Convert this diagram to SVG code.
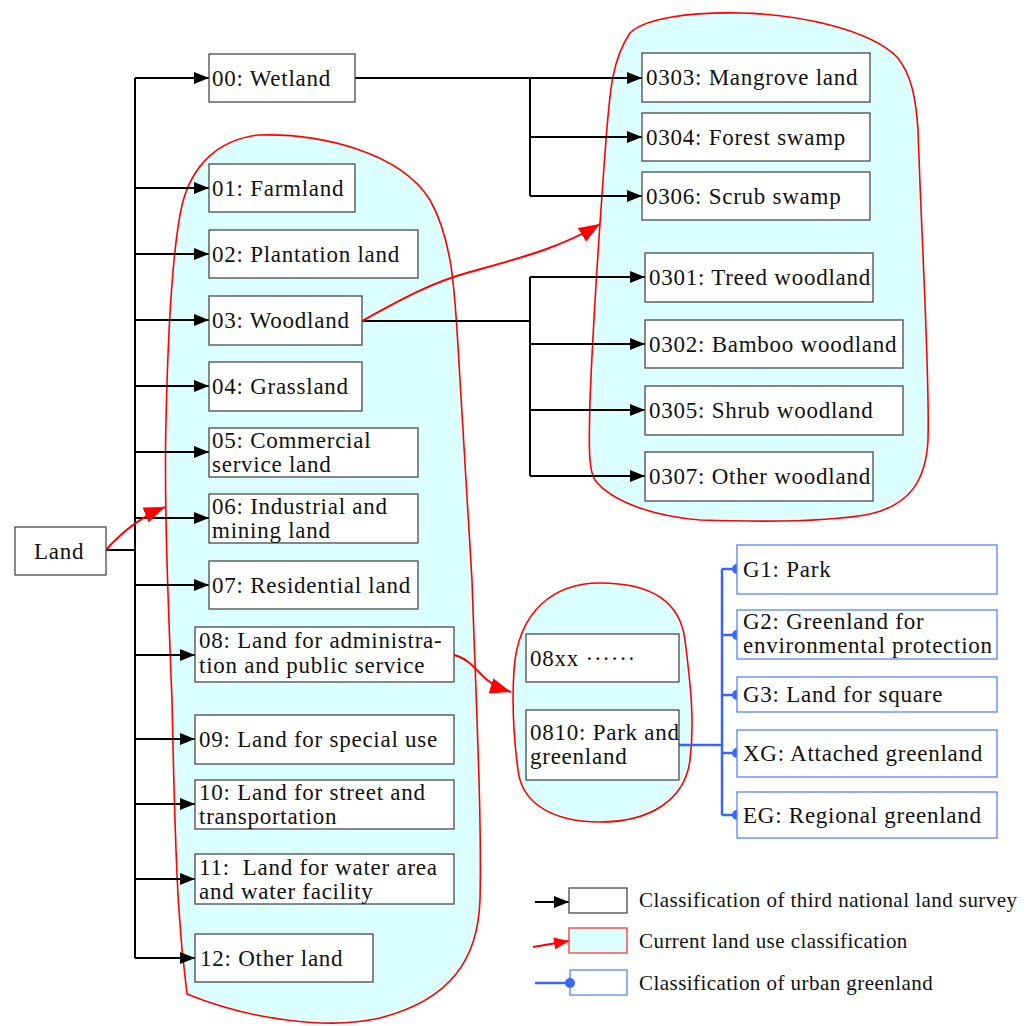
<svg xmlns="http://www.w3.org/2000/svg" width="1035" height="1026" viewBox="0 0 1035 1026">
  <style>
    .blob { fill: #dcffff; stroke: #ff0000; stroke-width: 1.6; }
    .box { fill: #ffffff; stroke: #4a4a4a; stroke-width: 1.3; }
    .gbox { fill: #ffffff; stroke: #5a82ff; stroke-width: 1.3; }
    .t { font-family: "Liberation Serif", "Times New Roman", serif; font-size: 23px; letter-spacing: 0.75px; fill: #111; }
    .lg { font-family: "Liberation Serif", "Times New Roman", serif; font-size: 21px; letter-spacing: 0.45px; fill: #111; }
    .blk { fill: none; stroke: #000; stroke-width: 2; }
    .red { fill: none; stroke: #ff0000; stroke-width: 2; }
    .blue { fill: none; stroke: #3a66f5; stroke-width: 2.5; }
    .dot { fill: #3a66f5; }
  </style>
  <defs>
    <marker id="ah" markerUnits="userSpaceOnUse" markerWidth="16" markerHeight="12" refX="15" refY="6" orient="auto">
      <path d="M0,0 L15,6 L0,12 z" fill="#000"/>
    </marker>
    <marker id="rah" markerUnits="userSpaceOnUse" markerWidth="22" markerHeight="16" refX="21" refY="8" orient="auto">
      <path d="M0,0 L21,8 L0,16 z" fill="#ff0000"/>
    </marker>
    <marker id="rahs" markerUnits="userSpaceOnUse" markerWidth="16" markerHeight="12" refX="15" refY="6" orient="auto">
      <path d="M0,0 L15,6 L0,12 z" fill="#ff0000"/>
    </marker>
  </defs>

  <!-- outlined groupings of the current land use classification -->
  <g id="groups">
    <path class="blob" d="M258,135 C320,133 400,152 430,200 C455,245 455,300 460,380 L472,580 C476,700 482,820 480,900 C478,960 450,1000 380,1018 C330,1030 250,1020 187,994 C180,940 176,900 172,700 C168,600 164,500 166,420 C168,330 172,250 182,205 C192,165 218,140 258,135 Z"/>
    <path class="blob" d="M740,13 C800,14 870,30 897,57 C912,75 916,100 918,130 C922,250 930,380 928,440 C926,480 910,505 870,514 C830,522 760,522 700,520 C650,516 610,500 595,480 C588,470 589,440 590,400 C594,300 600,220 606,140 C610,90 612,60 630,33 C645,18 690,12 740,13 Z"/>
    <path class="blob" d="M600,583 C650,583 680,600 685,640 C690,680 695,720 690,760 C685,800 650,822 600,822 C555,822 522,805 518,770 C514,740 512,700 514,670 C518,610 555,583 600,583 Z"/>
  </g>

  <!-- connectors -->
  <g id="connectors">
    <path class="blk" d="M106,550 H135 M135,78 V958"/>
    <path class="blk" marker-end="url(#ah)" d="M135,78 H209"/>
    <path class="blk" marker-end="url(#ah)" d="M135,188 H209"/>
    <path class="blk" marker-end="url(#ah)" d="M135,254 H209"/>
    <path class="blk" marker-end="url(#ah)" d="M135,320 H209"/>
    <path class="blk" marker-end="url(#ah)" d="M135,386 H209"/>
    <path class="blk" marker-end="url(#ah)" d="M135,452 H209"/>
    <path class="blk" marker-end="url(#ah)" d="M135,518 H209"/>
    <path class="blk" marker-end="url(#ah)" d="M135,585 H209"/>
    <path class="blk" marker-end="url(#ah)" d="M135,655 H195"/>
    <path class="blk" marker-end="url(#ah)" d="M135,739 H195"/>
    <path class="blk" marker-end="url(#ah)" d="M135,804 H195"/>
    <path class="blk" marker-end="url(#ah)" d="M135,879 H195"/>
    <path class="blk" marker-end="url(#ah)" d="M135,958 H195"/>

    <path class="blk" d="M355,78 H530 M530,78 V196"/>
    <path class="blk" marker-end="url(#ah)" d="M530,78 H642"/>
    <path class="blk" marker-end="url(#ah)" d="M530,137 H642"/>
    <path class="blk" marker-end="url(#ah)" d="M530,196 H642"/>

    <path class="blk" d="M362,321 H530 M530,277 V476"/>
    <path class="blk" marker-end="url(#ah)" d="M530,277 H645"/>
    <path class="blk" marker-end="url(#ah)" d="M530,344 H645"/>
    <path class="blk" marker-end="url(#ah)" d="M530,410 H645"/>
    <path class="blk" marker-end="url(#ah)" d="M530,476 H645"/>

    <path class="red" marker-end="url(#rah)" d="M106,550 C120,534 138,518 165,507"/>
    <path class="red" marker-end="url(#rah)" d="M362,321 C400,300 430,283 470,272 C520,258 560,248 600,224"/>
    <path class="red" marker-end="url(#rah)" d="M454,655 C468,658 476,670 486,679 C493,685 501,689 511,692"/>

    <path class="blue" d="M679,745 H722 M722,569 V815 M722,569 H737 M722,635 H737 M722,695 H737 M722,753 H737 M722,815 H737"/>
    <circle class="dot" cx="737" cy="569" r="5"/>
    <circle class="dot" cx="737" cy="635" r="5"/>
    <circle class="dot" cx="737" cy="695" r="5"/>
    <circle class="dot" cx="737" cy="753" r="5"/>
    <circle class="dot" cx="737" cy="815" r="5"/>
  </g>

  <!-- nodes -->
  <g id="n-land"><rect class="box" x="15" y="527" width="91" height="48"/><text class="t" x="34" y="559">Land</text></g>

  <g id="n-00"><rect class="box" x="209" y="54" width="146" height="48"/><text class="t" x="212" y="86">00: Wetland</text></g>
  <g id="n-01"><rect class="box" x="209" y="164" width="146" height="48"/><text class="t" x="212" y="196">01: Farmland</text></g>
  <g id="n-02"><rect class="box" x="209" y="230" width="209" height="48"/><text class="t" x="212" y="262">02: Plantation land</text></g>
  <g id="n-03"><rect class="box" x="209" y="296" width="153" height="49"/><text class="t" x="212" y="328">03: Woodland</text></g>
  <g id="n-04"><rect class="box" x="209" y="362" width="153" height="49"/><text class="t" x="212" y="394">04: Grassland</text></g>
  <g id="n-05"><rect class="box" x="209" y="428" width="209" height="49"/><text class="t" x="212" y="448">05: Commercial</text><text class="t" x="212" y="472">service land</text></g>
  <g id="n-06"><rect class="box" x="209" y="494" width="209" height="49"/><text class="t" x="212" y="514">06: Industrial and</text><text class="t" x="212" y="538">mining land</text></g>
  <g id="n-07"><rect class="box" x="209" y="561" width="209" height="48"/><text class="t" x="212" y="593">07: Residential land</text></g>
  <g id="n-08"><rect class="box" x="195" y="627" width="259" height="55"/><text class="t" x="199" y="648">08: Land for administra-</text><text class="t" x="199" y="673">tion and public service</text></g>
  <g id="n-09"><rect class="box" x="195" y="715" width="259" height="49"/><text class="t" x="199" y="747">09: Land for special use</text></g>
  <g id="n-10"><rect class="box" x="195" y="780" width="259" height="49"/><text class="t" x="199" y="800">10: Land for street and</text><text class="t" x="199" y="824">transportation</text></g>
  <g id="n-11"><rect class="box" x="195" y="854" width="259" height="50"/><text class="t" x="199" y="875" xml:space="preserve">11:  Land for water area</text><text class="t" x="199" y="899">and water facility</text></g>
  <g id="n-12"><rect class="box" x="195" y="934" width="178" height="48"/><text class="t" x="200" y="966">12: Other land</text></g>

  <g id="n-0303"><rect class="box" x="642" y="53" width="228" height="49"/><text class="t" x="646" y="85">0303: Mangrove land</text></g>
  <g id="n-0304"><rect class="box" x="642" y="113" width="228" height="48"/><text class="t" x="646" y="145">0304: Forest swamp</text></g>
  <g id="n-0306"><rect class="box" x="642" y="172" width="228" height="48"/><text class="t" x="646" y="204">0306: Scrub swamp</text></g>
  <g id="n-0301"><rect class="box" x="645" y="253" width="228" height="49"/><text class="t" x="649" y="285">0301: Treed woodland</text></g>
  <g id="n-0302"><rect class="box" x="645" y="320" width="258" height="48"/><text class="t" x="649" y="352">0302: Bamboo woodland</text></g>
  <g id="n-0305"><rect class="box" x="645" y="386" width="258" height="49"/><text class="t" x="649" y="418">0305: Shrub woodland</text></g>
  <g id="n-0307"><rect class="box" x="645" y="452" width="228" height="49"/><text class="t" x="649" y="484">0307: Other woodland</text></g>

  <g id="n-08xx"><rect class="box" x="526" y="634" width="153" height="48"/><text class="t" x="530" y="666">08xx ······</text></g>
  <g id="n-0810"><rect class="box" x="526" y="710" width="153" height="70"/><text class="t" x="530" y="740">0810: Park and</text><text class="t" x="530" y="764">greenland</text></g>

  <g id="n-g1"><rect class="gbox" x="737" y="545" width="260" height="49"/><text class="t" x="743" y="577">G1: Park</text></g>
  <g id="n-g2"><rect class="gbox" x="737" y="610" width="260" height="49"/><text class="t" x="743" y="629">G2: Greenland for</text><text class="t" x="743" y="653">environmental protection</text></g>
  <g id="n-g3"><rect class="gbox" x="737" y="677" width="260" height="35"/><text class="t" x="743" y="702">G3: Land for square</text></g>
  <g id="n-xg"><rect class="gbox" x="737" y="730" width="260" height="47"/><text class="t" x="743" y="761">XG: Attached greenland</text></g>
  <g id="n-eg"><rect class="gbox" x="737" y="792" width="260" height="46"/><text class="t" x="743" y="823">EG: Regional greenland</text></g>

  <!-- legend -->
  <g id="legend">
    <path class="blk" marker-end="url(#ah)" d="M535,902 H569"/>
    <rect class="box" x="569" y="888" width="58" height="25"/>
    <text class="lg" x="639" y="907">Classification of third national land survey</text>
    <path class="red" marker-end="url(#rahs)" d="M533,947 L569,941"/>
    <rect x="569" y="928" width="58" height="25" fill="#dcffff" stroke="#ff3333" stroke-width="1.3"/>
    <text class="lg" x="639" y="948">Current land use classification</text>
    <path class="blue" d="M535,983 H570"/>
    <rect class="gbox" x="570" y="970" width="57" height="25"/>
    <circle class="dot" cx="570" cy="983" r="5"/>
    <text class="lg" x="639" y="990">Classification of urban greenland</text>
  </g>
</svg>
